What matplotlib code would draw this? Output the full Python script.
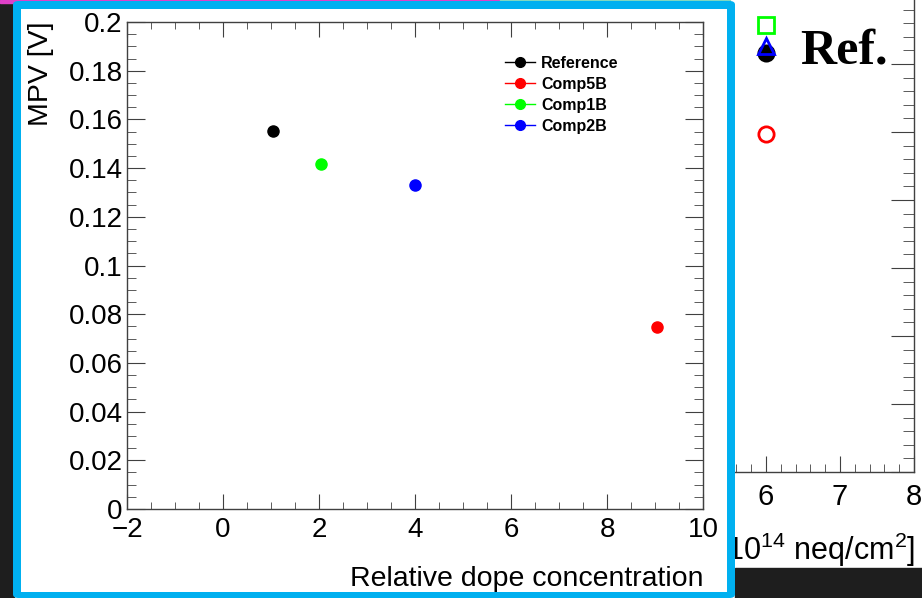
import matplotlib
matplotlib.use("Agg")
import matplotlib.pyplot as plt
from matplotlib.patches import Rectangle, FancyBboxPatch
from matplotlib.lines import Line2D
from matplotlib.ticker import MultipleLocator

plt.rcParams['font.family'] = ['Liberation Sans', 'DejaVu Sans']

# ---- data: MPV vs relative dope concentration ----
samples = ["Reference", "Comp5B", "Comp1B", "Comp2B"]
dope = [1.05, 9.05, 2.05, 4.0]
mpv = [0.1554, 0.0746, 0.1418, 0.1331]
colors = ["#000000", "#ff0000", "#00ff00", "#0000ff"]

# ---- data: fluence plot partly visible behind ----
fl_x = [6.0, 6.0, 6.0, 6.0]
fl_y = [0.1315, 0.1232, 0.1253, 0.0994]
fl_marker = ["s", "o", "^", "o"]
fl_color = ["#00ff00", "#000000", "#0000ff", "#ff0000"]
fl_fill = ["none", "#000000", "none", "none"]
fl_xticks = [6, 7, 8]

W, H = 922, 598
fig = plt.figure(figsize=(W / 100, H / 100), dpi=100)
fig.patch.set_facecolor("white")


def fx(x):
    return x / W


def fy(y):
    return 1 - y / H


def box(x0, y0, x1, y1):
    return [fx(x0), fy(y1), fx(x1) - fx(x0), fy(y0) - fy(y1)]


# slide background pieces
fig.add_artist(Rectangle((0, 0), fx(14), 1, transform=fig.transFigure,
                         color="#1e1e1e", zorder=0.1))
fig.add_artist(Rectangle((fx(0), fy(2.5)), fx(500), 2.5 / H, transform=fig.transFigure,
                         color="#e040c8", zorder=0.1))
fig.add_artist(Rectangle((fx(500), fy(2.5)), fx(230), 2.5 / H, transform=fig.transFigure,
                         color="#7fd8c0", zorder=0.1))
fig.add_artist(Rectangle((fx(735), fy(598)), fx(922) - fx(735), 30 / H, transform=fig.transFigure,
                         color="#1e1e1e", zorder=0.1))

# background fluence plot (only its right/bottom part is visible)
bg = fig.add_axes(box(729, -4, 914, 472), zorder=0)
bg.set_xlim(5.5, 8)
bg.set_ylim(0, 0.14)
for s in ("top", "left"):
    bg.spines[s].set_visible(False)
for s in ("bottom", "right"):
    bg.spines[s].set_color("#404040")
    bg.spines[s].set_linewidth(1)
bg.xaxis.set_major_locator(MultipleLocator(1))
bg.xaxis.set_minor_locator(MultipleLocator(0.2))
bg.yaxis.set_major_locator(MultipleLocator(0.02))
bg.yaxis.set_minor_locator(MultipleLocator(0.004))
bg.tick_params(axis="x", which="both", direction="in", top=False, bottom=True,
               labelsize=21, pad=8, color="#404040")
bg.tick_params(axis="x", which="major", length=11.3)
bg.tick_params(axis="x", which="minor", length=5.5)
bg.tick_params(axis="y", which="both", direction="in", left=False, right=True,
               labelleft=False, labelright=False, color="#404040")
bg.tick_params(axis="y", which="major", length=16.5)
bg.tick_params(axis="y", which="minor", length=7.7)
bg.set_xticks(fl_xticks)
bg.set_xticklabels([str(v) for v in fl_xticks])
for x, y, m, c, f in zip(fl_x, fl_y, fl_marker, fl_color, fl_fill):
    bg.plot([x], [y], marker=m, markersize=11, markeredgecolor=c,
            markerfacecolor=f, markeredgewidth=2, linestyle="none", clip_on=False)
fig.text(fx(915), fy(560), r"Fluence [$\mathregular{10^{14}}$ neq/cm$\mathregular{^{2}}$]",
         ha="right", va="baseline", fontsize=22, zorder=0.5)
fig.text(fx(800), fy(63), "Ref.", ha="left", va="baseline", fontsize=36,
         fontweight="bold", family=["Liberation Serif", "DejaVu Serif"], zorder=0.5)

# framed panel for the main plot
fig.add_artist(FancyBboxPatch((fx(13), fy(598)), fx(735) - fx(13), fy(1) - fy(598),
                              boxstyle="round,pad=0,rounding_size=0.006",
                              transform=fig.transFigure, facecolor="#00b0f0",
                              edgecolor="none", zorder=1))
fig.add_artist(Rectangle((fx(21), fy(592)), fx(727) - fx(21), fy(9) - fy(592),
                         transform=fig.transFigure, facecolor="white",
                         edgecolor="none", zorder=1.1))

# main plot
ax = fig.add_axes(box(127, 22, 703, 509), zorder=2)
ax.set_facecolor("none")
ax.set_xlim(-2, 10)
ax.set_ylim(0, 0.2)
for s in ax.spines.values():
    s.set_color("#404040")
    s.set_linewidth(1)
ax.xaxis.set_major_locator(MultipleLocator(2))
ax.xaxis.set_minor_locator(MultipleLocator(0.5))
ax.yaxis.set_major_locator(MultipleLocator(0.02))
ax.yaxis.set_minor_locator(MultipleLocator(0.005))
ax.tick_params(which="both", direction="in", top=True, right=True, color="#404040",
               labelsize=20)
ax.tick_params(axis="x", which="major", length=10.5, pad=5.5)
ax.tick_params(axis="x", which="minor", length=5.3)
ax.tick_params(axis="y", which="major", length=12.7, pad=3)
ax.tick_params(axis="y", which="minor", length=6.6)
ax.set_yticks([0, 0.02, 0.04, 0.06, 0.08, 0.1, 0.12, 0.14, 0.16, 0.18, 0.2])
ax.set_yticklabels(["0", "0.02", "0.04", "0.06", "0.08", "0.1", "0.12", "0.14",
                    "0.16", "0.18", "0.2"])
ax.set_xticks([-2, 0, 2, 4, 6, 8, 10])
ax.set_xticklabels(["\u22122", "0", "2", "4", "6", "8", "10"])

for x, y, c in zip(dope, mpv, colors):
    ax.plot([x], [y], marker="o", markersize=8, color=c, linestyle="none")

fig.text(fx(703), fy(586), "Relative dope concentration", ha="right", va="baseline",
         fontsize=20.5, zorder=3)
fig.text(fx(54), fy(22), "MPV [V]", ha="right", va="bottom", rotation=90,
         rotation_mode="anchor", fontsize=20.5, zorder=3)

# legend
leg_rows = [61.5, 83, 104, 125]
for (name, c), yrow in zip(zip(samples, colors), leg_rows):
    fig.add_artist(Line2D([fx(505), fx(535)], [fy(yrow), fy(yrow)], transform=fig.transFigure,
                          color=c, lw=1, zorder=3))
    fig.add_artist(Line2D([fx(520)], [fy(yrow)], transform=fig.transFigure, marker="o",
                          markersize=7, color=c, zorder=3))
    fig.text(fx(541), fy(yrow), name, ha="left", va="center_baseline", fontsize=11.5,
             fontweight="bold", zorder=3)

fig.savefig("out.png", dpi=100)
